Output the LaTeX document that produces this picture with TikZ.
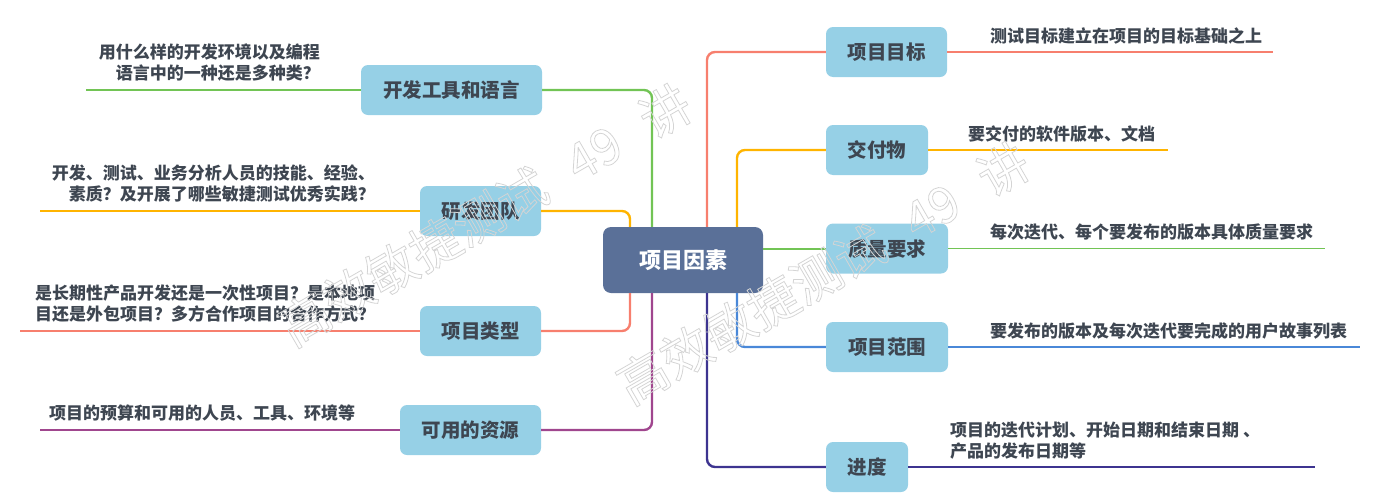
\documentclass[tikz,border=0pt]{standalone}
\usepackage{fontspec}
\setmainfont{Noto Sans CJK SC}
\definecolor{boxblue}{HTML}{96D0E6}
\definecolor{centerblue}{HTML}{5A7098}
\definecolor{txt}{HTML}{3E4651}
\definecolor{lgreen}{HTML}{72C455}
\definecolor{lsalmon}{HTML}{F77F6E}
\definecolor{lorange}{HTML}{FFB400}
\definecolor{lblue}{HTML}{4A88D8}
\definecolor{ldpurple}{HTML}{3D3490}
\definecolor{lpurple}{HTML}{A0468E}
\definecolor{wmgray}{HTML}{D4D4D4}
\newcommand{\wmtext}{\special{pdf:code 1 Tr 0.8 w}高效敏捷测试\hspace{0.6em}49\hspace{0.6em}讲\special{pdf:code 0 Tr}}
\begin{document}
\begin{tikzpicture}[x=1pt,y=-1pt,
  topic/.style={fill=boxblue, rounded corners=7pt, minimum height=50pt, inner sep=0pt,
    font=\bfseries\fontsize{19.5}{22}\selectfont, text=txt},
  root/.style={fill=centerblue, rounded corners=8pt, minimum width=160pt, minimum height=66pt,
    inner sep=0pt, font=\bfseries\fontsize{22}{24}\selectfont, text=white},
  leaf/.style={inner sep=0pt, font=\bfseries\fontsize{17}{21}\selectfont, text=txt},
  trunk/.style={line width=2.4pt, rounded corners=8pt},
  under/.style={line width=1.5pt},
  wm/.style={inner sep=0pt, rotate=30, font=\fontsize{50}{50}\selectfont, text=wmgray}]
\useasboundingbox (0,0) rectangle (1379,501);

% nodes
\node[root] (c) at (683,260) {项目因素};
\node[topic, minimum width=121pt] (goal) at (886.5,52) {项目目标};
\node[topic, minimum width=102pt] (deliv) at (877,150) {交付物};
\node[topic, minimum width=122pt] (qual) at (887,248.5) {质量要求};
\node[topic, minimum width=122pt] (scope) at (887,347) {项目范围};
\node[topic, minimum width=82pt] (sched) at (867,467) {进度};
\node[topic, minimum width=181pt] (tools) at (451.5,90) {开发工具和语言};
\node[topic, minimum width=121pt] (team) at (480.5,211) {研发团队};
\node[topic, minimum width=121pt] (type) at (480.5,331) {项目类型};
\node[topic, minimum width=141pt] (res) at (470.5,430) {可用的资源};

% main connectors
\draw[trunk, lsalmon] ([xshift=24pt]c.north) |- (goal.west);
\draw[trunk, lorange] ([xshift=54pt]c.north) |- (deliv.west);
\draw[line width=2pt, lgreen] (c.east |- qual.west) -- (qual.west);
\draw[trunk, lblue] ([xshift=54pt]c.south) |- (scope.west);
\draw[trunk, ldpurple] ([xshift=24pt]c.south) |- (sched.west);
\draw[trunk, lgreen] ([xshift=-31pt]c.north) |- (tools.east);
\draw[trunk, lorange] ([xshift=-53pt]c.north) |- (team.east);
\draw[trunk, lsalmon] ([xshift=-53pt]c.south) |- (type.east);
\draw[trunk, lpurple] ([xshift=-31pt]c.south) |- (res.east);

% leaf underlines
\coordinate (goalE) at (1273,52);
\coordinate (delivE) at (1168,150);
\coordinate (qualE) at (1325,248.5);
\coordinate (scopeE) at (1360,347);
\coordinate (schedE) at (1315,467);
\coordinate (toolsE) at (86,90);
\coordinate (teamE) at (40,211);
\coordinate (typeE) at (20,331);
\coordinate (resE) at (40,430);
\draw[under, lsalmon] (goal.east) -- (goalE);
\draw[under, lorange] (deliv.east) -- (delivE);
\draw[under, lgreen] (qual.east) -- (qualE);
\draw[under, lblue] (scope.east) -- (scopeE);
\draw[under, ldpurple] (sched.east) -- (schedE);
\draw[under, lgreen] (tools.west) -- (toolsE);
\draw[under, lorange] (team.west) -- (teamE);
\draw[under, lsalmon] (type.west) -- (typeE);
\draw[under, lpurple] (res.west) -- (resE);

% leaf texts
\node[leaf, anchor=west] (goalT) at (990,36) {测试目标建立在项目的目标基础之上};
\node[leaf, anchor=west] (delivT) at (968,134) {要交付的软件版本、文档};
\node[leaf, anchor=west] (qualT) at (990,232) {每次迭代、每个要发布的版本具体质量要求};
\node[leaf, anchor=west] (scopeT) at (990,331) {要发布的版本及每次迭代要完成的用户故事列表};
\node[leaf, anchor=west, align=left] (schedT) at (950,441) {项目的迭代计划、开始日期和结束日期 、\\产品的发布日期等};
\node[leaf, anchor=east, align=right] (toolsT) at (320,63) {用什么样的开发环境以及编程\\语言中的一种还是多种类？};
\node[leaf, anchor=east, align=right] (teamT) at (375,183.5) {开发、测试、业务分析人员的技能、经验、\\素质？及开展了哪些敏捷测试优秀实践？};
\node[leaf, anchor=west, align=left] (typeT) at (35,304) {是长期性产品开发还是一次性项目？是本地项\\目还是外包项目？多方合作项目的合作方式？};
\node[leaf, anchor=west] (resT) at (49,413) {项目的预算和可用的人员、工具、环境等};

% watermark (outlined text)
\node[wm] (wm1) at (485,215) {\wmtext};
\node[wm] (wm2) at (823,273) {\wmtext};
\end{tikzpicture}
\end{document}
